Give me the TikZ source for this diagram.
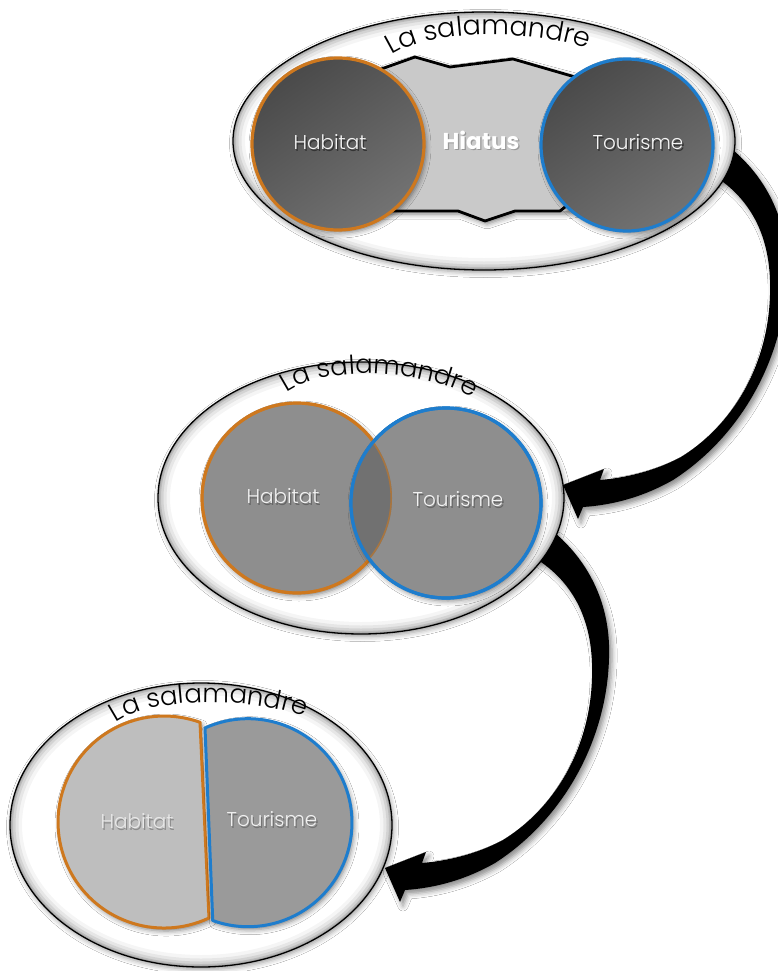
\documentclass[tikz,border=0pt]{standalone}
\usepackage{fontspec}
\setmainfont{Poppins}[UprightFont=* Light, BoldFont=* Bold]
\usetikzlibrary{shapes.geometric,decorations.text,shadows.blur}

\definecolor{ringorange}{HTML}{CE781E}
\definecolor{ringblue}{HTML}{1E7DCD}
\definecolor{hiatusgray}{HTML}{C9C9C9}
\definecolor{midgray}{HTML}{8E8E8E}
\definecolor{overlapgray}{HTML}{717171}
\definecolor{paleleft}{HTML}{BEBEBE}
\definecolor{paleright}{HTML}{9A9A9A}

% text with a small offset shadow underneath
\newcommand\castlabel[3]{\leavevmode\rlap{\kern1.3pt\raisebox{-1.3pt}{\textcolor{#2}{#3}}}\textcolor{#1}{#3}}

\tikzset{
  salframe/.style 2 args={ellipse, minimum width=#1, minimum height=#2, inner sep=0pt,
    fill=white, draw=black, line width=1.3pt,
    blur shadow={shadow xshift=1.5pt, shadow yshift=-2.5pt, shadow blur radius=5pt, shadow opacity=40},
    path picture={
      \foreach \w/\o in {24pt/0.04,17pt/0.06,11pt/0.08,6pt/0.11,3pt/0.12}
        \draw[line width=\w, black, opacity=\o] (path picture bounding box.center)
          ellipse [x radius=#1/2, y radius=#2/2];
    }},
  discshadow/.style={blur shadow={shadow xshift=2pt, shadow yshift=-3pt, shadow blur radius=5pt, shadow opacity=50}},
  topdisc/.style={circle, minimum size=172pt, inner sep=0pt, line width=3.2pt,
    top color=black!71, bottom color=black!55, shading angle=35, discshadow},
  middisc/.style={circle, minimum size=190pt, inner sep=0pt, line width=3.2pt,
    fill=midgray, discshadow},
  lbl/.style={font=\fontsize{20}{24}\selectfont, inner sep=0pt},
  arched/.style={decorate, decoration={text along path, text align=center,
    text={|\fontsize{#1}{#1}\selectfont|La salamandre}}},
  curvedarrow/.style={fill=black,
    blur shadow={shadow xshift=3pt, shadow yshift=-4pt, shadow blur radius=5pt, shadow opacity=45}}
}

% the thick curved arrow, drawn relative to its tip
\newcommand\bentarrow{%
  \fill[curvedarrow] (170,-335) .. controls (205,-305) and (226,-262) .. (224,-210)
    .. controls (222,-130) and (180,-50) .. (110,-5)
    .. controls (80,12) and (50,20) .. (20,22) -- (15,34) -- (0,0) -- (41,-16) -- (37,-5)
    .. controls (60,-7) and (90,-13) .. (118,-28)
    .. controls (170,-60) and (205,-120) .. (207,-190)
    .. controls (209,-245) and (190,-285) .. (150,-310) -- cycle;}

\begin{document}
\begin{tikzpicture}[x=1pt,y=-1pt]
\fill[white] (0,0) rectangle (778,971);
\useasboundingbox (0,0) rectangle (778,971);

% ---------- bottom stage: the two halves side by side ----------
\node[salframe={382pt}{284pt}] (e3) at (201,825) {};
\filldraw[fill=paleleft, draw=ringorange, line width=3pt, line join=round, discshadow]
  (200,722) -- (209,918) arc[start angle=-64.9, end angle=-289.8, radius=106pt] -- cycle;
\filldraw[fill=paleright, draw=ringblue, line width=3pt, line join=round, discshadow]
  (205,728) arc[start angle=114.4, end angle=-109.8, radius=104pt] -- cycle;
\node[lbl] (hab3) at (137,822) {\castlabel{black!9}{black!45}{Habitat}};
\node[lbl] (tour3) at (272,820) {\castlabel{black!6}{black!55}{Tourisme}};
\path[arched=26] (110,728) .. controls (135,698) and (250,693) .. (312,720);

% arrow from the middle stage to the bottom stage
\coordinate (tipB) at (385,868);
\begin{scope}[shift={(tipB)}]\bentarrow\end{scope}

% ---------- middle stage: overlapping circles ----------
\node[salframe={406pt}{272pt}] (e2) at (361,498) {};
\node[middisc, draw=ringorange] (hab2) at (297,498) {};
\node[middisc, draw=ringblue] (tour2) at (446,503) {};
\begin{scope}
  \clip (hab2.center) circle[radius=95pt];
  \fill[overlapgray] (tour2.center) circle[radius=95pt];
  \draw[ringorange, line width=3.2pt, opacity=0.6] (hab2.center) circle[radius=95pt];
\end{scope}
\draw[ringblue, line width=3.2pt] (tour2.center) circle[radius=95pt];
\node[lbl] (hab2t) at (283,497) {\castlabel{black!5}{black!60}{Habitat}};
\node[lbl] (tour2t) at (458,500) {\castlabel{black!5}{black!60}{Tourisme}};
\path[arched=26] (280,398) .. controls (305,368) and (420,362) .. (480,402);

% arrow from the top stage to the middle stage
\coordinate (tipA) at (563,485);
\begin{scope}[shift={(tipA)}]\bentarrow\end{scope}

% ---------- top stage: separated circles with the gap ----------
\node[salframe={502pt}{258pt}] (e1) at (484,141) {};
\fill[hiatusgray, discshadow] (380,75) -- (383,67) -- (415,57) -- (450,67) -- (513,59)
  -- (573,75) -- (600,85) -- (600,205) -- (565,211) -- (515,211) -- (485,221)
  -- (458,211) -- (380,211) -- cycle;
\draw[line width=2.8pt, line join=round] (370,73) -- (415,57) -- (450,67) -- (513,59) -- (582,79);
\draw[line width=2.8pt, line join=round] (385,211) -- (458,211) -- (485,221) -- (515,211)
  -- (560,211) -- (570,203);
\node[font=\bfseries\fontsize{23}{26}\selectfont, inner sep=0pt] (hiatus) at (481,141)
  {\castlabel{white}{black!40}{Hiatus}};
\node[topdisc, draw=ringorange] (hab1) at (338,144) {};
\node[topdisc, draw=ringblue] (tour1) at (627,145) {};
\node[lbl] (hab1t) at (330,143) {\castlabel{black!4}{black!80}{Habitat}};
\node[lbl] (tour1t) at (638,143) {\castlabel{black!4}{black!80}{Tourisme}};
\path[arched=27] (385,60) .. controls (415,30) and (535,26) .. (595,52);
\end{tikzpicture}
\end{document}
